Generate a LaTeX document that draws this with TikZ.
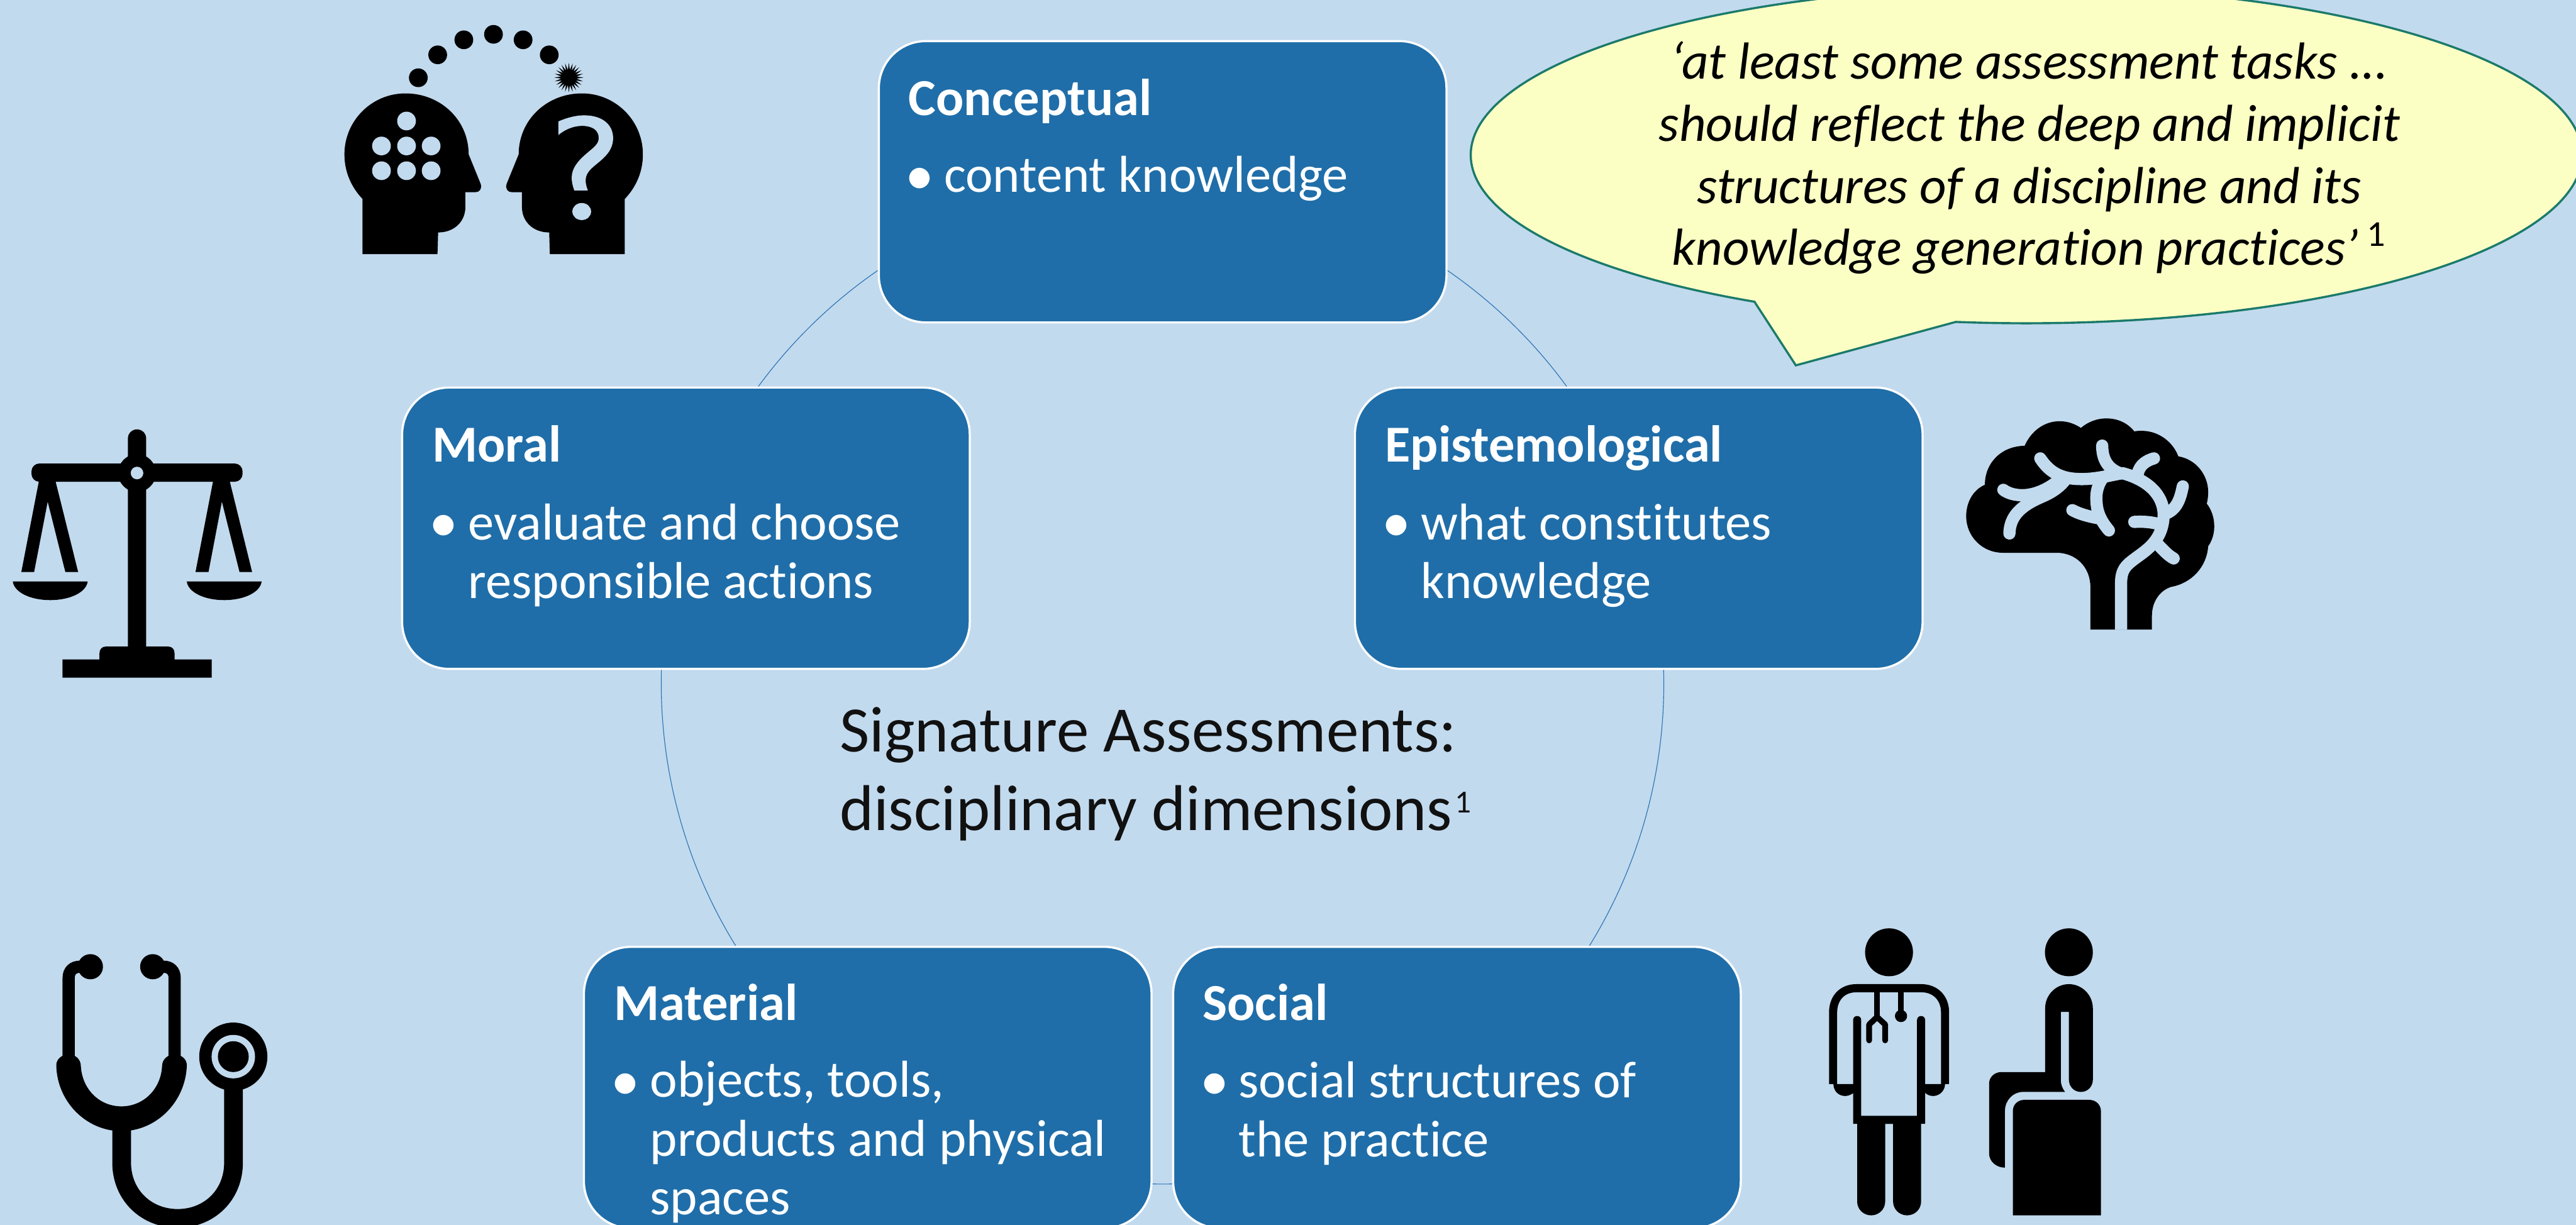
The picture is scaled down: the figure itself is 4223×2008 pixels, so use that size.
\documentclass[tikz,border=0pt]{standalone}
\usepackage{fontspec}
\setmainfont[Ligatures=NoCommon]{Carlito}
\usetikzlibrary{shapes.geometric,backgrounds}
\definecolor{bgc}{HTML}{C2DAEE}
\definecolor{boxc}{HTML}{1F6EA9}
\definecolor{arcc}{HTML}{2E75B6}
\definecolor{calloutc}{HTML}{FBFFC4}
\definecolor{calloutl}{HTML}{1B7A6B}
\definecolor{darktext}{HTML}{111111}
\newcommand{\smallsup}{\kern1pt\raisebox{8pt}{\fontsize{15}{15}\selectfont 1}}
\tikzset{
  boxnode/.style={rectangle,rounded corners=0.77cm,minimum width=9.3cm,minimum height=4.61cm,inner sep=0pt,fill=boxc,draw=white,line width=0.035cm},
  titletext/.style={anchor=base west,inner sep=0pt,text=white,font=\fontsize{24.2}{27.3}\selectfont\bfseries},
  bodytext/.style={anchor=base west,inner sep=0pt,text=white,align=left,font=\fontsize{24.2}{27.3}\selectfont},
  bulletmark/.style={anchor=base,inner sep=0pt,text=white,font=\fontsize{27}{27}\selectfont},
  centertext/.style={anchor=base west,inner sep=0pt,text=darktext,align=left,font=\fontsize{30.2}{36.4}\selectfont},
  quotetext/.style={anchor=base,inner sep=0pt,text=black,align=center,font=\fontsize{24.3}{29}\selectfont\itshape},
  cyclearc/.style={draw=arcc,line width=0.012cm},
  iconfill/.style={fill=black,draw=none},
  iconhole/.style={fill=bgc,draw=none},
  sulcus/.style={draw=bgc,line width=0.2cm,line cap=round},
  tube/.style={draw=black,line cap=butt}
}
\newcommand{\headoutline}{(208,1192) -- (208,920) .. controls (155,860) and (125,785) .. (125,700) .. controls (125,535) and (250,400) .. (405,400) .. controls (565,400) and (695,530) .. (695,700) -- (750,845) .. controls (758,870) and (745,887) .. (725,887) -- (680,887) -- (680,960) .. controls (680,1030) and (630,1085) .. (555,1085) -- (552,1192) -- cycle}
\begin{document}
\begin{tikzpicture}[x=0.01cm,y=-0.01cm]
\useasboundingbox (0,0) rectangle (4223,2008);
\clip (0,0) rectangle (4223,2008);

% boxes
\node[boxnode] (conceptual) at (1906,298) {};
\node[boxnode] (epistemological) at (2686.5,866) {};
\node[boxnode] (social) at (2388.5,1783) {};
\node[boxnode] (material) at (1422.5,1783) {};
\node[boxnode] (moral) at (1124.5,866) {};

\begin{scope}[on background layer]
  \fill[bgc] (0,0) rectangle (4223,2008);
  \draw[cyclearc] (conceptual.center) .. controls (2262,298) and (2578,527) .. (epistemological.center);
  \draw[cyclearc] (epistemological.center) .. controls (2798,1205) and (2677,1576) .. (social.center);
  \draw[cyclearc] (social.center) .. controls (2101,1994) and (1711,1994) .. (material.center);
  \draw[cyclearc] (material.center) .. controls (1135,1576) and (1014,1205) .. (moral.center);
  \draw[cyclearc] (moral.center) .. controls (1234,527) and (1550,298) .. (conceptual.center);
\end{scope}

% box texts
\node[titletext] (t1) at (1489,189) {Conceptual};
\node[bulletmark] (b1) at (1508,319) {•};
\node[bodytext] (x1) at (1547,315) {content knowledge};

\node[titletext] (t2) at (708,757) {Moral};
\node[bulletmark] (b2) at (727,888) {•};
\node[bodytext] (x2) at (767,981) {evaluate and choose\\responsible actions};

\node[titletext] (t3) at (2270,757) {Epistemological};
\node[bulletmark] (b3) at (2289,888) {•};
\node[bodytext] (x3) at (2329,981) {what constitutes\\knowledge};

\node[titletext] (t4) at (1006,1673) {Material};
\node[bulletmark] (b4) at (1025,1804) {•};
\node[bodytext] (x4) at (1065,1991) {objects, tools,\\products and physical\\spaces};

\node[titletext] (t5) at (1971,1673) {Social};
\node[bulletmark] (b5) at (1991,1804) {•};
\node[bodytext] (x5) at (2030,1896) {social structures of\\the practice};

% centre text
\node[centertext] (centre) at (1376,1361) {Signature Assessments:\\disciplinary dimensions\smallsup};

% callout
\coordinate (tailtip) at (2944,599);
\draw[fill=calloutc,draw=calloutl,line width=0.035cm,line join=miter]
  plot[domain=119.3:457.3,samples=240,smooth] ({3322+911*cos(\x)},{254+276*sin(\x)}) -- (tailtip) -- cycle;
\node[quotetext] (quote) at (3327,435) {‘at least some assessment tasks ...\\should reflect the deep and implicit\\structures of a discipline and its\\knowledge generation practices’\,\textsuperscript{\upshape 1}};

% heads icon
\begin{scope}[shift={(520,20)},x=0.0035714cm,y=-0.0033333cm]
  \fill[iconfill] \headoutline;
  \foreach \px/\py in {410/536,295/659,410/659,523/659,295/781,410/781,523/781}
    \fill[iconhole] (\px,\py) circle[x radius=43,y radius=46];
  \foreach \px/\py in {464/323,553/210,673/136,809/109,945/136,1065/210}
    \fill[iconfill] (\px,\py) circle[x radius=43,y radius=46];
  \node[star,star points=24,star point ratio=1.9,minimum size=0.48cm,inner sep=0pt,fill=black] (burst) at (1155,322) {};
\end{scope}
\begin{scope}[shift={(1098.57,20)},x=-0.0035714cm,y=-0.0033333cm]
  \fill[iconfill] \headoutline;
\end{scope}
\begin{scope}[shift={(520,20)},x=0.0035714cm,y=-0.0033333cm]
  \fill[iconhole] (1107,538) .. controls (1150,518) and (1190,508) .. (1225,508) .. controls (1310,508) and (1358,555) .. (1358,620) .. controls (1358,680) and (1320,715) .. (1280,750) .. controls (1245,780) and (1232,800) .. (1232,830) .. controls (1232,845) and (1236,860) .. (1242,878) -- (1180,878) .. controls (1172,855) and (1168,835) .. (1168,815) .. controls (1168,770) and (1195,735) .. (1232,700) .. controls (1270,665) and (1292,650) .. (1292,620) .. controls (1292,580) and (1262,560) .. (1215,560) .. controls (1180,560) and (1140,575) .. (1107,605) -- cycle;
  \fill[iconhole] (1214,982) circle[x radius=43,y radius=42];
\end{scope}

% scales icon
\begin{scope}[shift={(0,680)},x=0.0033333cm,y=-0.0033333cm]
  \fill[iconfill] (630,1145) -- (630,117) .. controls (630,92) and (650,72) .. (675,72) .. controls (700,72) and (720,92) .. (720,117) -- (720,1145) -- cycle;
  \fill[iconfill,rounded corners=0.13cm] (155,240) rectangle (1195,330);
  \fill[iconfill] (675,287) circle[radius=93];
  \fill[iconhole] (675,287) circle[radius=31];
  \fill[iconfill] (490,1205) -- (490,1175) .. controls (490,1155) and (503,1142) .. (520,1142) -- (830,1142) .. controls (847,1142) and (860,1155) .. (860,1175) -- (860,1205) -- (1043,1205) -- (1043,1295) -- (308,1295) -- (308,1205) -- cycle;
  \fill[iconfill] (192,325) -- (105,775) -- (168,775) -- (235,428) -- (322,775) -- (385,775) -- (273,325) -- cycle;
  \fill[iconfill] (1050,325) -- (963,775) -- (1027,775) -- (1093,428) -- (1180,775) -- (1242,775) -- (1131,325) -- cycle;
  \fill[iconfill] (63,821) -- (432,821) .. controls (425,875) and (345,913) .. (247,913) .. controls (150,913) and (70,875) .. (63,821) -- cycle;
  \fill[iconfill] (920,821) -- (1289,821) .. controls (1282,875) and (1202,913) .. (1104,913) .. controls (1007,913) and (927,875) .. (920,821) -- cycle;
\end{scope}

% brain icon
\begin{scope}[shift={(3180,640)},x=0.0033333cm,y=-0.0033333cm]
  \fill[iconfill] (742,1178) -- (742,970) .. controls (742,870) and (670,800) .. (575,800) -- (310,800) .. controls (210,800) and (130,720) .. (130,620) .. controls (130,550) and (165,490) .. (222,465) .. controls (222,360) and (300,275) .. (418,273) .. controls (450,200) and (515,152) .. (590,152) .. controls (630,152) and (665,165) .. (695,185) .. controls (730,155) and (775,138) .. (820,138) .. controls (875,138) and (925,160) .. (958,202) .. controls (1060,185) and (1145,245) .. (1175,325) .. controls (1265,340) and (1322,420) .. (1322,500) .. controls (1322,520) and (1320,540) .. (1315,558) .. controls (1340,590) and (1352,630) .. (1352,670) .. controls (1352,705) and (1342,740) .. (1322,768) .. controls (1315,870) and (1240,950) .. (1140,968) .. controls (1085,985) and (1045,1040) .. (1045,1110) -- (1045,1178) -- cycle;
  \draw[sulcus,line cap=butt] (893,1179) -- (893,950) .. controls (893,880) and (920,860) .. (960,830) .. controls (1020,785) and (1100,740) .. (1103,610) .. controls (1100,510) and (1020,440) .. (900,408);
  \draw[sulcus] (495,335) .. controls (550,420) and (620,437) .. (700,437) .. controls (780,437) and (850,415) .. (900,408);
  \draw[sulcus] (615,445) .. controls (570,500) and (510,520) .. (490,530) .. controls (400,570) and (345,620) .. (343,705);
  \draw[sulcus] (313,490) .. controls (360,525) and (470,540) .. (590,440);
  \draw[sulcus] (800,272) .. controls (800,330) and (820,380) .. (880,405);
  \draw[sulcus] (1055,335) .. controls (1020,345) and (985,365) .. (975,410);
  \draw[sulcus] (1197,473) .. controls (1185,530) and (1170,590) .. (1105,610);
  \draw[sulcus] (958,648) .. controls (1010,645) and (1060,650) .. (1095,665);
  \draw[sulcus] (1152,828) .. controls (1120,810) and (1100,785) .. (1075,760);
  \draw[sulcus] (800,435) .. controls (770,480) and (770,520) .. (772,550) .. controls (775,610) and (800,650) .. (833,690);
  \draw[sulcus] (653,590) .. controls (690,610) and (730,620) .. (780,630);
\end{scope}

% stethoscope icon
\begin{scope}[shift={(60,1530)},x=0.0033333cm,y=-0.0033333cm]
  \draw[tube,line width=0.2cm] (158,650) -- (158,220) .. controls (158,185) and (180,165) .. (215,165);
  \draw[tube,line width=0.2cm] (680,650) -- (680,220) .. controls (680,185) and (658,165) .. (625,165);
  \fill[iconfill] (265,165) circle[radius=62];
  \fill[iconfill] (572,165) circle[radius=62];
  \fill[iconfill] (97,650) .. controls (97,620) and (125,597) .. (158,597) .. controls (190,597) and (218,620) .. (218,655) .. controls (225,770) and (310,853) .. (418,853) .. controls (525,853) and (612,770) .. (618,655) .. controls (618,620) and (648,597) .. (680,597) .. controls (712,597) and (740,620) .. (740,650) .. controls (735,830) and (590,975) .. (418,975) .. controls (245,975) and (100,830) .. (97,650) -- cycle;
  \draw[tube,line width=0.307cm] (419,950) -- (419,1130) .. controls (419,1290) and (540,1405) .. (695,1405) .. controls (850,1405) and (970,1290) .. (970,1130) -- (970,740);
  \fill[iconfill] (969,608) circle[radius=168];
  \fill[iconhole] (969,608) circle[radius=107];
  \fill[iconfill] (969,608) circle[radius=76];
\end{scope}

% doctor and patient icon
\begin{scope}[shift={(2960,1500)},x=0.0033333cm,y=-0.0033333cm]
  \fill[iconfill] (411,184) circle[radius=118];
  \fill[iconfill] (1297,184) circle[radius=118];
  \draw[tube,line width=0.133cm] (135.5,833) -- (135.5,480) .. controls (135.5,410) and (180,361) .. (250,361) -- (570,361) .. controls (640,361) and (687,410) .. (687,480) -- (687,833);
  \fill[iconfill] (137,833) -- (240,833) -- (240,875) .. controls (225,885) and (210,892) .. (195,892) .. controls (160,892) and (137,865) .. (137,833) -- cycle;
  \fill[iconfill] (687,833) -- (587,833) -- (587,875) .. controls (598,885) and (610,892) .. (628,892) .. controls (660,892) and (687,865) .. (687,833) -- cycle;
  \fill[iconfill] (254,1000) -- (254,1412) .. controls (254,1450) and (285,1480) .. (323,1480) .. controls (361,1480) and (392,1450) .. (392,1412) -- (392,1029) -- (431,1029) -- (431,1412) .. controls (431,1450) and (462,1480) .. (500,1480) .. controls (538,1480) and (569,1450) .. (569,1412) -- (569,1000) -- cycle;
  \fill[iconfill] (234,1029) -- (234,518) .. controls (234,506) and (243,498) .. (254,498) .. controls (265,498) and (274,506) .. (274,518) -- (274,990) -- (549,990) -- (549,518) .. controls (549,506) and (558,498) .. (569,498) .. controls (580,498) and (589,506) .. (589,518) -- (589,1029) -- cycle;
  \draw[tube,line width=0.095cm] (352,370) -- (352,495);
  \draw[tube,line width=0.095cm,line cap=round,line join=round] (313,618) -- (313,540) -- (352,503) -- (392,540) -- (392,618);
  \draw[tube,line width=0.095cm] (470,370) -- (470,495);
  \fill[iconfill] (470,498) circle[radius=30];
  \fill[iconfill] (1180,774) -- (1180,460) .. controls (1180,395) and (1232,341) .. (1297,341) .. controls (1362,341) and (1415,395) .. (1415,460) -- (1415,812) .. controls (1415,845) and (1390,872) .. (1356,872) .. controls (1322,872) and (1297,845) .. (1297,812) -- (1297,478) -- (1257,478) -- (1257,812) .. controls (1257,835) and (1265,855) .. (1278,872) -- (1070,872) .. controls (1020,872) and (982,915) .. (982,965) -- (982,1245) .. controls (940,1245) and (904,1215) .. (904,1175) -- (904,830) .. controls (904,800) and (930,774) .. (965,774) -- cycle;
  \fill[iconfill] (1021,1480) -- (1021,965) .. controls (1021,935) and (1045,911) .. (1078,911) -- (1397,911) .. controls (1430,911) and (1455,935) .. (1455,968) -- (1455,1480) -- cycle;
\end{scope}
\end{tikzpicture}
\end{document}
